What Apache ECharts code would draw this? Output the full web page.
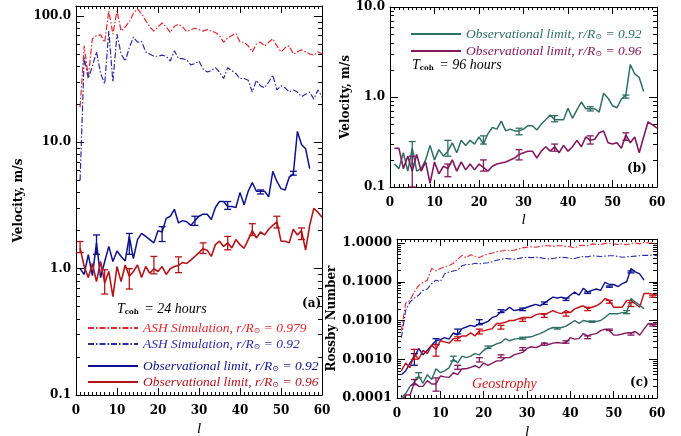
<!DOCTYPE html>
<html><head><meta charset="utf-8">
<script src="https://cdn.jsdelivr.net/npm/echarts@6/dist/echarts.min.js"></script>
<style>html,body{margin:0;padding:0;background:#fff}#c{width:681px;height:436px}</style>
</head><body><div id="c"></div>
<script>
// ---------- DATA (l = 1, 2, 3, ...) ----------
// Panel (a): velocity, T_coh = 24 h
const ashRedA = [19,58,33,66,70,71,62,110,72,110, 76,82,90,105,114,104,92,82,76,82, 88,82,74,83,86,82,75,78,80,78, 76,78,76,74,70,62,67,70,73,62, 62,58,52,60,62,58,62,66,58,52, 56,58,50,52,54,52,50,49,52,50];
const ashBlueA = [5,47,32,40,52,35,29,76,30,72, 50,44,56,68,62,63,52,50,48,48, 49,48,44,53,46,46,45,41,42,44, 38,36,37,39,36,32,39,37,35,32, 32,31,25,31,28,27,30,34,26,28, 27,25,26,25,23,24,25,22,26,23];
const obsBlueA = [1.0,0.9,1.29,0.88,1.6,0.85,1.14,1.5,1.14,1.38, 1.25,1.15,1.8,1.2,1.7,1.9,1.8,1.7,1.6,2.0, 1.95,2.5,2.6,2.95,2.3,2.4,2.35,2.2,2.4,2.6, 2.7,2.7,2.45,3.05,3.4,3.4,3.1,3.1,3.05,4.0, 3.2,4.1,4.8,4.1,4.1,4.1,3.7,5.9,4.9,4.3, 4.2,5.3,5.6,12.2,9.6,8.9,6.2];
const obsRedA = [1.46,1.04,0.85,1.1,0.79,1.14,0.77,0.95,0.6,1.04, 0.79,1.07,0.87,0.95,1.07,0.85,1.04,0.92,1.0,0.95, 1.04,0.9,1.0,1.04,1.06,1.12,1.1,1.17,1.25,1.34, 1.44,1.4,1.25,1.55,1.65,1.5,1.6,1.46,1.7,1.55, 1.45,1.7,2.0,1.75,1.95,1.85,2.05,2.2,2.35,1.65, 1.65,1.6,2.05,1.85,2.0,1.4,2.2,3.0,2.8,2.55];
const errBlueA = [[5,1.3,1.85],[13,1.3,1.9],[21,1.64,2.15],[29,2.2,2.6],[37,2.95,3.4],[45,3.9,4.2],[53,5.5,5.9]];
const errRedA = [[1,1.34,1.64],[7,0.63,0.98],[13,0.69,1.0],[19,0.91,1.25],[25,0.93,1.24],[31,1.32,1.6],[37,1.41,1.8],[43,1.83,2.27],[49,2.1,2.6],[55,1.7,2.1]];

// Panel (b): velocity, T_coh = 96 h
const tealB = [0.18,0.16,0.24,0.15,0.27,0.15,0.16,0.2,0.29,0.2, 0.26,0.22,0.25,0.31,0.24,0.33,0.29,0.33,0.3,0.36, 0.3,0.39,0.46,0.44,0.54,0.42,0.44,0.42,0.42,0.44, 0.48,0.48,0.43,0.5,0.56,0.63,0.56,0.56,0.56,0.75, 0.58,0.72,0.88,0.74,0.74,0.74,0.68,1.1,0.97,0.8, 0.76,0.95,1.05,2.3,1.8,1.65,1.15];
const purpleB = [0.27,0.27,0.16,0.22,0.15,0.23,0.15,0.19,0.11,0.19, 0.14,0.17,0.16,0.2,0.15,0.19,0.155,0.18,0.155,0.18, 0.165,0.15,0.17,0.18,0.185,0.19,0.2,0.21,0.23,0.24, 0.25,0.25,0.21,0.25,0.28,0.25,0.28,0.24,0.29,0.25, 0.28,0.33,0.28,0.36,0.33,0.34,0.4,0.42,0.31,0.3, 0.31,0.27,0.38,0.31,0.36,0.24,0.36,0.53,0.49,0.45];
const errTealB = [[5,0.18,0.32],[13,0.22,0.33],[21,0.3,0.37],[29,0.38,0.45],[37,0.53,0.62],[45,0.7,0.78],[53,0.97,1.05]];
const errPurpleB = [[5,0.1,0.22],[13,0.13,0.18],[21,0.15,0.2],[29,0.2,0.26],[37,0.25,0.3],[45,0.3,0.37],[53,0.33,0.4]];

// Panel (c): Rossby number
const ashRedC = [0.0055,0.028,0.033,0.055,0.08,0.097,0.11,0.22,0.19,0.22, 0.24,0.26,0.3,0.38,0.48,0.42,0.5,0.45,0.42,0.48, 0.52,0.55,0.6,0.62,0.65,0.63,0.65,0.7,0.75,0.78, 0.8,0.78,0.82,0.85,0.85,0.82,0.85,0.85,0.82,0.8, 0.75,0.85,0.88,0.85,0.95,0.92,0.9,0.98,1.0,0.95, 0.92,0.95,0.9,0.98,1.0,0.95,1.05,1.0,1.0,0.9];
const ashBlueC = [0.0036,0.018,0.03,0.038,0.045,0.06,0.065,0.09,0.11,0.1, 0.16,0.18,0.19,0.2,0.26,0.28,0.28,0.3,0.29,0.3, 0.31,0.33,0.36,0.38,0.4,0.39,0.38,0.4,0.42,0.43, 0.42,0.43,0.42,0.4,0.39,0.4,0.42,0.43,0.42,0.4, 0.4,0.43,0.45,0.44,0.47,0.46,0.45,0.46,0.47,0.47, 0.45,0.43,0.44,0.45,0.46,0.47,0.48,0.48,0.49,0.47];
const obsBlueC = [0.0004,0.0005,0.0008,0.0011,0.0019,0.0013,0.0017,0.0023,0.003,0.0032, 0.0036,0.0033,0.0048,0.0042,0.0062,0.0068,0.0075,0.007,0.0084,0.0085, 0.0095,0.012,0.013,0.017,0.018,0.022,0.018,0.019,0.02,0.022, 0.024,0.026,0.024,0.028,0.034,0.04,0.038,0.04,0.036,0.045, 0.054,0.045,0.068,0.055,0.06,0.065,0.06,0.097,0.085,0.085, 0.075,0.09,0.1,0.22,0.18,0.16,0.11];
const obsRedC = [0.0005,0.0008,0.0006,0.0014,0.001,0.0017,0.0014,0.0023,0.0018,0.003, 0.0028,0.0026,0.0034,0.0034,0.004,0.004,0.0048,0.004,0.0054,0.0054, 0.0058,0.0062,0.0084,0.0084,0.009,0.01,0.01,0.011,0.012,0.012, 0.012,0.014,0.015,0.014,0.016,0.018,0.016,0.015,0.018,0.016, 0.02,0.022,0.024,0.02,0.022,0.024,0.028,0.037,0.033,0.022, 0.022,0.022,0.033,0.033,0.027,0.022,0.05,0.05,0.048,0.045];
const tealC = [0.0001,0.00013,0.0002,0.00025,0.00037,0.00024,0.0004,0.0003,0.00057,0.00045, 0.0005,0.0006,0.001,0.0008,0.0012,0.0011,0.0012,0.0014,0.0013,0.0017, 0.002,0.0022,0.0025,0.0027,0.0034,0.003,0.0033,0.0034,0.0035,0.0037, 0.0038,0.0042,0.0046,0.0052,0.006,0.0066,0.0064,0.0066,0.0072,0.0084, 0.01,0.0084,0.01,0.0094,0.0095,0.0095,0.01,0.012,0.015,0.015, 0.015,0.016,0.016,0.037,0.03,0.025,0.02];
const purpleC = [0.00008,0.00012,0.00012,0.00025,0.0002,0.0002,0.00028,0.00023,0.00023,0.00037, 0.00035,0.00034,0.00045,0.0004,0.00057,0.00057,0.00062,0.00068,0.0006,0.0008, 0.0007,0.0008,0.00091,0.00091,0.0011,0.0011,0.0013,0.0014,0.0015,0.0019, 0.0021,0.002,0.0022,0.0027,0.0024,0.0026,0.0027,0.0026,0.0027,0.0036, 0.0033,0.0034,0.0046,0.004,0.0044,0.0046,0.0055,0.006,0.0055,0.0042, 0.0042,0.0045,0.0048,0.0048,0.0052,0.0042,0.006,0.0084,0.0082,0.008];
const errBlueC = [[4,0.0007,0.0014],[9,0.0024,0.0034],[14,0.0045,0.006],[19,0.0078,0.0105],[24,0.016,0.019],[29,0.018,0.021],[34,0.026,0.03],[39,0.033,0.038],[44,0.05,0.055],[49,0.072,0.078],[54,0.17,0.19]];
const errRedC = [[4,0.001,0.0018],[9,0.0012,0.0024],[14,0.003,0.0038],[19,0.0045,0.006],[24,0.006,0.0075],[29,0.0095,0.011],[34,0.012,0.015],[39,0.013,0.016],[44,0.018,0.022],[49,0.028,0.033],[54,0.023,0.029],[59,0.04,0.045]];
const errTealC = [[5,0.00033,0.00045],[13,0.0009,0.0012],[21,0.0019,0.0022],[29,0.0033,0.0037],[37,0.006,0.0066],[45,0.009,0.0097],[53,0.015,0.018]];
const errPurpleC = [[4,0.00022,0.0003],[9,0.00015,0.00033],[14,0.00055,0.0007],[19,0.00085,0.0011],[24,0.0011,0.0013],[29,0.0017,0.002],[34,0.0023,0.0026],[39,0.0026,0.003],[44,0.0034,0.004],[49,0.0055,0.006],[54,0.0042,0.0048],[59,0.0072,0.008]];

// Tick values
const majorA = [0.1,1,10,100];
const minorA = [0.2,0.3,0.4,0.5,0.6,0.7,0.8,0.9,2,3,4,5,6,7,8,9,20,30,40,50,60,70,80,90];
const majorB = [0.1,1,10];
const minorB = [0.2,0.3,0.4,0.5,0.6,0.7,0.8,0.9,2,3,4,5,6,7,8,9];
const majorC = [0.0001,0.001,0.01,0.1,1];
const minorC = [0.0002,0.0003,0.0004,0.0005,0.0006,0.0007,0.0008,0.0009,0.002,0.003,0.004,0.005,0.006,0.007,0.008,0.009,0.02,0.03,0.04,0.05,0.06,0.07,0.08,0.09,0.2,0.3,0.4,0.5,0.6,0.7,0.8,0.9];

// ---------- STYLE ----------
const C = {
  ashRed:'#e3262c', ashBlue:'#2b2ba6', obsBlue:'#0e128e', obsRed:'#b3141a',
  teal:'#2f6e62', purple:'#80195e'
};
const SERIF = '"DejaVu Serif", serif';
const ITAL = '"Liberation Serif", serif';
const DASHDOT = [6,2,1.5,2];

const chart = echarts.init(document.getElementById('c'), null, {renderer:'canvas'});

function xAxes(g, nameGap){
  const base = {type:'value', gridIndex:g, min:0, max:60, interval:10,
    axisLine:{show:true, lineStyle:{color:'#000', width:1}},
    splitLine:{show:false},
    minorTick:{show:true, splitNumber:10, length:3, lineStyle:{color:'#000'}},
    axisTick:{show:true, inside:true, length:7, lineStyle:{color:'#000'}}};
  return [
    Object.assign({}, base, {position:'bottom',
      axisLabel:{show:true, margin:10, color:'#000', fontFamily:SERIF, fontWeight:'bold', fontSize:12},
      name:'l', nameLocation:'middle', nameGap:nameGap,
      nameTextStyle:{fontFamily:ITAL, fontStyle:'italic', fontSize:15, color:'#000'}}),
    Object.assign({}, base, {position:'top', axisLabel:{show:false}})
  ];
}
function yAxes(g, min, max, major, minor, digits, name, nameGap, fs){
  const line = {show:true, lineStyle:{color:'#000', width:1}};
  const mk = (pos, showLab) => ({type:'log', gridIndex:g, min:min, max:max, position:pos,
    axisLine:line, splitLine:{show:false}, minorTick:{show:false},
    axisTick:{show:true, inside:true, length:8, customValues:major, lineStyle:{color:'#000'}},
    axisLabel: showLab ? {show:true, customValues:major, margin:5, color:'#000', fontFamily:SERIF, fontWeight:'bold', fontSize:fs,
       formatter: v => Number(v).toFixed(digits)} : {show:false}});
  const mkMinor = pos => ({type:'log', gridIndex:g, min:min, max:max, position:pos,
    axisLine:{show:false}, splitLine:{show:false}, minorTick:{show:false},
    axisTick:{show:true, inside:true, length:4, customValues:minor, lineStyle:{color:'#000'}},
    axisLabel:{show:false}});
  const left = mk('left', true);
  left.name = name; left.nameLocation = 'middle'; left.nameGap = nameGap; left.nameRotate = 90;
  left.nameTextStyle = {fontFamily:SERIF, fontWeight:'bold', fontSize:12, color:'#000'};
  return [left, mkMinor('left'), mk('right', false), mkMinor('right')];
}

const idx = arr => arr.map((v,i) => [i+1, v]);
function line(name, g, arr, color, width, type){
  return {name:name, type:'line', xAxisIndex:2*g, yAxisIndex:4*g, data:idx(arr), symbol:'none',
    lineStyle:{color:color, width:width, type:type||'solid'}, itemStyle:{color:color}, clip:true, animation:false, z:2};
}
function errbars(g, arr, color){
  return {type:'custom', xAxisIndex:2*g, yAxisIndex:4*g, data:arr, silent:true, animation:false, z:3,
    renderItem:(params, api) => {
      const x = api.value(0), lo = api.value(1), hi = api.value(2);
      const a = api.coord([x, lo]), b = api.coord([x, hi]);
      const w = 3.5, st = {stroke:color, lineWidth:1.3};
      return {type:'group', children:[
        {type:'line', shape:{x1:a[0], y1:a[1], x2:b[0], y2:b[1]}, style:st},
        {type:'line', shape:{x1:a[0]-w, y1:a[1], x2:a[0]+w, y2:a[1]}, style:st},
        {type:'line', shape:{x1:b[0]-w, y1:b[1], x2:b[0]+w, y2:b[1]}, style:st}
      ]};
    }};
}

const legendText = {
  ash979:'ASH Simulation, r/R{s|⊙} = 0.979',
  ash92:'ASH Simulation, r/R{s|⊙} = 0.92',
  aObs92:'Observational limit, r/R{s|⊙} = 0.92',
  aObs96:'Observational limit, r/R{s|⊙} = 0.96',
  bObs92:'Observational limit, r/R{s|⊙} = 0.92',
  bObs96:'Observational limit, r/R{s|⊙} = 0.96'
};
function legend(left, top, items, colors, gap){
  return {left:left, top:top, orient:'vertical', itemWidth:50, itemHeight:14, itemGap:gap, selectedMode:false,
    padding:0, itemStyle:{opacity:0},
    data: items.map((n,i) => ({name:n, textStyle:{color:colors[i]}})),
    formatter: n => legendText[n],
    textStyle:{fontFamily:ITAL, fontStyle:'italic', fontSize:13.5,
      rich:{s:{fontSize:8, fontFamily:SERIF, padding:[5,0,0,0]}}}};
}

const option = {
  animation:false,
  backgroundColor:'#fff',
  grid:[
    {left:76, top:6, width:246, height:389, outerBoundsMode:'none', containLabel:false},
    {left:390, top:7, width:267, height:180, outerBoundsMode:'none', containLabel:false},
    {left:397, top:239, width:260, height:159, outerBoundsMode:'none', containLabel:false}
  ],
  xAxis:[...xAxes(0, 27), ...xAxes(1, 26), ...xAxes(2, 27)],
  yAxis:[
    ...yAxes(0, 0.1, 120, majorA, minorA, 1, 'Velocity, m/s', 51, 12),
    ...yAxes(1, 0.1, 10, majorB, minorB, 1, 'Velocity, m/s', 37, 12),
    ...yAxes(2, 0.0001, 1.27, majorC, minorC, 4, 'Rossby Number', 55, 13)
  ],
  legend:[
    legend(87, 321, ['ash979','ash92'], [C.ashRed, C.ashBlue], 2),
    legend(87, 359, ['aObs92','aObs96'], [C.obsBlue, C.obsRed], 2),
    legend(410, 27, ['bObs92','bObs96'], [C.teal, C.purple], 3)
  ],
  series:[
    line('ash979', 0, ashRedA, C.ashRed, 1.2, DASHDOT),
    line('ash92', 0, ashBlueA, C.ashBlue, 1.2, DASHDOT),
    line('aObs92', 0, obsBlueA, C.obsBlue, 1.5),
    line('aObs96', 0, obsRedA, C.obsRed, 1.6),
    errbars(0, errBlueA, C.obsBlue),
    errbars(0, errRedA, C.obsRed),
    line('bObs92', 1, tealB, C.teal, 1.5),
    line('bObs96', 1, purpleB, C.purple, 1.6),
    errbars(1, errTealB, C.teal),
    errbars(1, errPurpleB, C.purple),
    line('cAsh979', 2, ashRedC, C.ashRed, 1.1, DASHDOT),
    line('cAsh92', 2, ashBlueC, C.ashBlue, 1.1, DASHDOT),
    line('cObsBlue', 2, obsBlueC, C.obsBlue, 1.4),
    line('cObsRed', 2, obsRedC, '#c41018', 1.4),
    line('cTeal', 2, tealC, C.teal, 1.4),
    line('cPurple', 2, purpleC, C.purple, 1.4),
    errbars(2, errBlueC, C.obsBlue),
    errbars(2, errRedC, '#c41018'),
    errbars(2, errTealC, C.teal),
    errbars(2, errPurpleC, C.purple)
  ],
  graphic:[
    {type:'text', left:117, top:302, style:{text:'{t|T}{s|coh}{t| = 24 hours}', fill:'#000',
      rich:{t:{fontFamily:ITAL, fontStyle:'italic', fontSize:14, fill:'#000'}, s:{fontFamily:SERIF, fontWeight:'bold', fontSize:7, padding:[6,2,0,0], fill:'#000'}}}},
    {type:'text', left:412, top:58, style:{text:'{t|T}{s|coh}{t| = 96 hours}', fill:'#000',
      rich:{t:{fontFamily:ITAL, fontStyle:'italic', fontSize:14, fill:'#000'}, s:{fontFamily:SERIF, fontWeight:'bold', fontSize:7, padding:[6,2,0,0], fill:'#000'}}}},
    {type:'text', left:302, top:298, style:{text:'(a)', fontFamily:SERIF, fontWeight:'bold', fontSize:12, fill:'#000'}},
    {type:'text', left:627, top:163, style:{text:'(b)', fontFamily:SERIF, fontWeight:'bold', fontSize:12, fill:'#000'}},
    {type:'text', left:630, top:377, style:{text:'(c)', fontFamily:SERIF, fontWeight:'bold', fontSize:12, fill:'#000'}},
    {type:'text', left:472, top:377, style:{text:'Geostrophy', fontFamily:ITAL, fontStyle:'italic', fontSize:14, fill:'#d01818'}}
  ]
};
chart.setOption(option);
</script>
</body></html>
